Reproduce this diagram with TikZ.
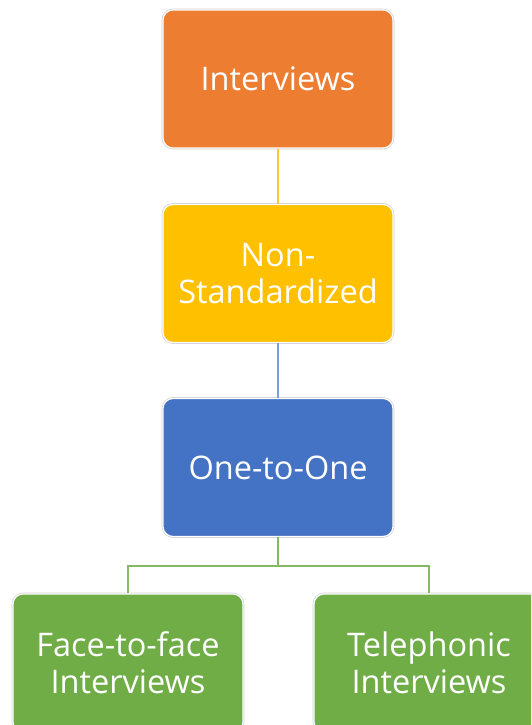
\documentclass[tikz,border=0pt]{standalone}
\usepackage{fontspec}
\setmainfont{Open Sans}
\definecolor{cOrange}{HTML}{ED7D31}
\definecolor{cYellow}{HTML}{FFC000}
\definecolor{cBlue}{HTML}{4472C4}
\definecolor{cGreen}{HTML}{70AD47}
\definecolor{lYellow}{HTML}{FAC63C}
\definecolor{lBlue}{HTML}{7C9DD8}
\definecolor{lGreen}{HTML}{85BA62}
\begin{document}
\begin{tikzpicture}[x=1pt, y=-1pt,
  box/.style={rectangle, rounded corners=10pt, minimum width=230pt, minimum height=138pt,
    text=white, align=center, inner sep=0pt,
    font=\fontsize{32.5}{37}\selectfont,
    draw=white, line width=1.2pt,
    preaction={draw=black!18, line width=2.6pt}},
  link/.style={line width=2.2pt}]
  \clip (0,0) rectangle (531,725);
  \fill[white] (0,0) rectangle (531,725);

  % hierarchy boxes
  \node[box, fill=cOrange] (iv)  at (278,79)    {Interviews};
  \node[box, fill=cYellow] (ns)  at (278,273.5) {Non-\\Standardized};
  \node[box, fill=cBlue]   (one) at (278,467.5) {One-to-One};
  \node[box, fill=cGreen]  (f2f) at (128,663)   {Face-to-face\\Interviews};
  \node[box, fill=cGreen]  (tel) at (429,663)   {Telephonic\\Interviews};

  % connectors
  \draw[link, lYellow] (iv.south) -- (ns.north);
  \draw[link, lBlue] (ns.south) -- (one.north);
  \draw[link, lGreen] (one.south) -- ++(0,29) coordinate (split) -| (f2f.north);
  \draw[link, lGreen] (split) -| (tel.north);
\end{tikzpicture}
\end{document}
